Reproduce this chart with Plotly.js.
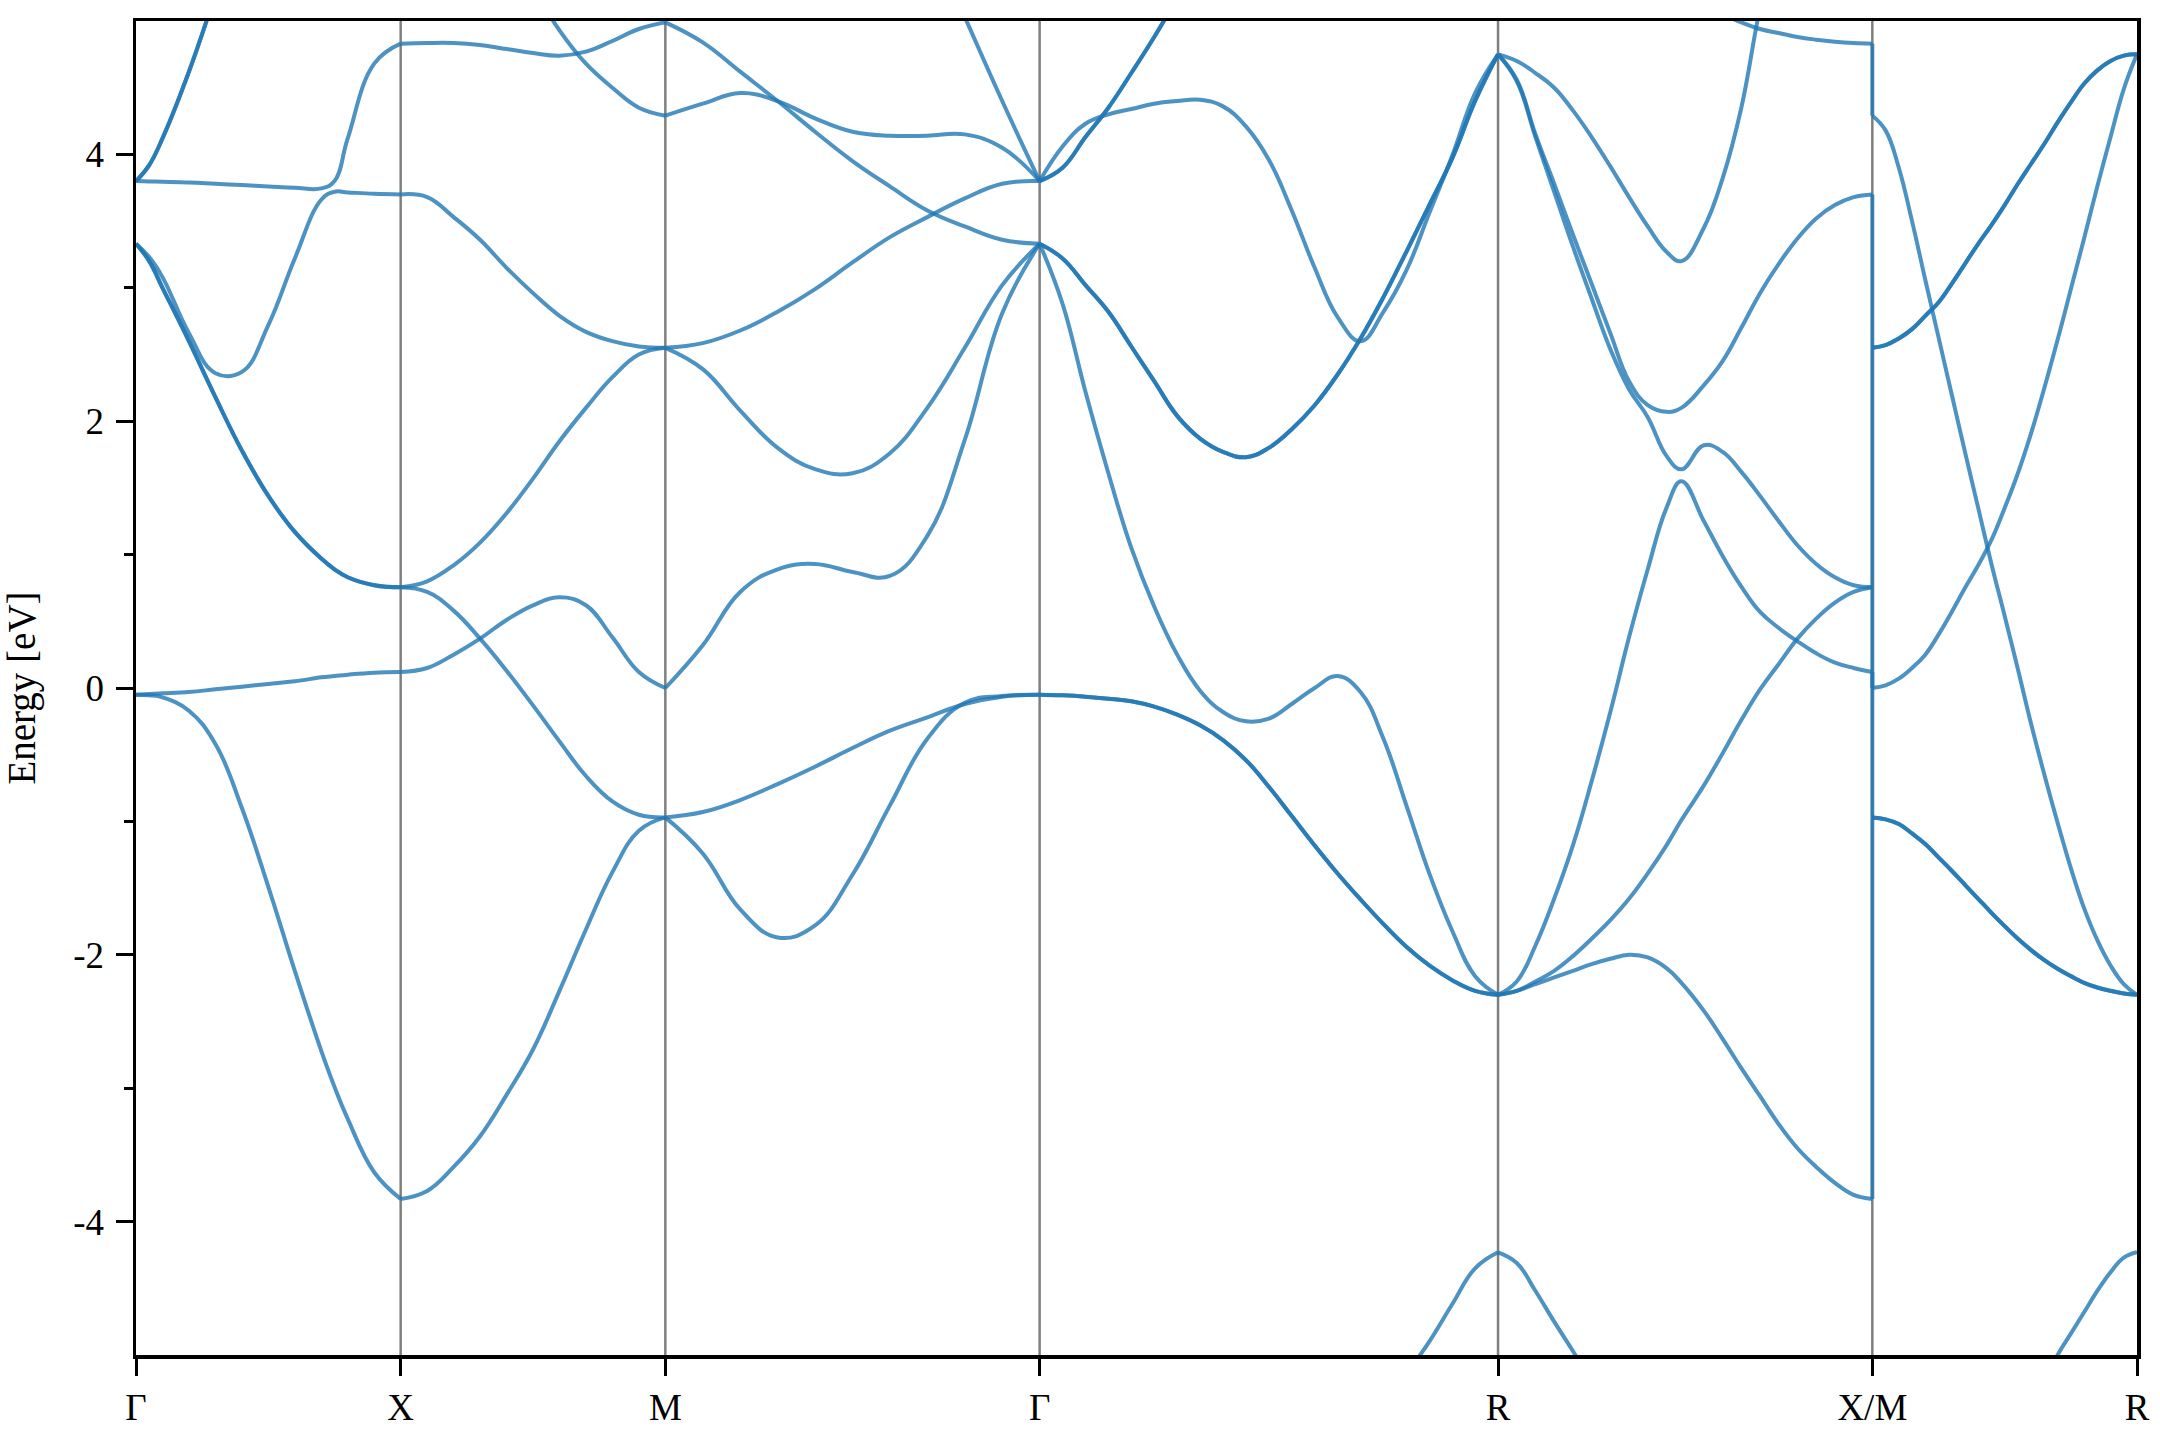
<!DOCTYPE html>
<html>
<head>
<meta charset="utf-8">
<script src="https://cdn.plot.ly/plotly-3.0.1.min.js"></script>
<style>
  html, body { margin: 0; padding: 0; background: #ffffff; }
  #chart { width: 2160px; height: 1440px; }
</style>
</head>
<body>
<div id="chart"></div>
<script>
// ---------------- high-symmetry path ----------------
const kLabels = ['Γ', 'X', 'M', 'Γ', 'R', 'X/M', 'R'];
const kTicks  = [0, 0.5, 1.0, 1.7071, 2.5731, 3.2802, 3.7802];

// ---------------- y axis ticks ----------------
const yTickVals  = [-4, -2, 0, 2, 4];
const yTickText  = ['-4', '-2', '0', '2', '4'];
const yMinorVals = [-3, -1, 1, 3];

// ---------------- Γ → X ----------------
const fGX = [0, 0.05, 0.1, 0.2, 0.3, 0.4, 0.5, 0.6, 0.7, 0.75, 0.8, 0.9, 1];
const bandsGX = [
  [-0.05, -0.055, -0.07, -0.17, -0.42, -0.90, -1.49, -2.12, -2.72, -2.99, -3.23, -3.63, -3.83],
  [-0.05, -0.045, -0.04, -0.03, -0.01, 0.01, 0.03, 0.05, 0.08, 0.09, 0.10, 0.115, 0.12],
  [3.33, 3.20, 3.00, 2.60, 2.18, 1.78, 1.44, 1.17, 0.97, 0.89, 0.83, 0.77, 0.755],
  [3.33, 3.23, 3.08, 2.66, 2.36, 2.37, 2.72, 3.22, 3.66, 3.72, 3.715, 3.705, 3.70],
  [3.80, 3.797, 3.795, 3.79, 3.78, 3.77, 3.76, 3.75, 3.745, 3.80, 4.12, 4.68, 4.83],
  [3.80, 3.92, 4.12, 4.62, 5.2, 5.8, null, null, null, null, null, null, null]
];
const degGX = [1, 1, 2, 1, 1, 2];

// ---------------- X → M ----------------
const fXM = [0, 0.1, 0.2, 0.3, 0.4, 0.5, 0.6, 0.7, 0.8, 0.9, 1];
const bandsXM = [
  [-3.83, -3.77, -3.59, -3.36, -3.05, -2.71, -2.27, -1.81, -1.38, -1.07, -0.97],
  [0.12, 0.15, 0.25, 0.37, 0.51, 0.62, 0.68, 0.62, 0.38, 0.12, 0.0],
  [0.755, 0.72, 0.58, 0.37, 0.13, -0.13, -0.40, -0.66, -0.85, -0.95, -0.97],
  [0.755, 0.80, 0.92, 1.09, 1.31, 1.57, 1.85, 2.10, 2.33, 2.50, 2.55],
  [3.70, 3.68, 3.53, 3.36, 3.15, 2.96, 2.79, 2.67, 2.60, 2.56, 2.55],
  [4.83, 4.835, 4.835, 4.82, 4.79, 4.76, 4.74, 4.77, 4.85, 4.94, 4.99],
  [null, null, null, null, null, 5.25, 4.93, 4.68, 4.50, 4.35, 4.29]
];
const degXM = [1, 1, 1, 1, 1, 1, 1];

// ---------------- M → Γ ----------------
const fMG = [0, 0.1, 0.2, 0.3, 0.4, 0.5, 0.6, 0.7, 0.8, 0.9, 1];
const bandsMG = [
  [-0.97, -1.24, -1.66, -1.87, -1.78, -1.40, -0.88, -0.38, -0.11, -0.06, -0.05],
  [-0.97, -0.93, -0.84, -0.72, -0.59, -0.45, -0.32, -0.22, -0.12, -0.065, -0.05],
  [0.0, 0.32, 0.72, 0.89, 0.93, 0.87, 0.84, 1.14, 1.86, 2.81, 3.33],
  [2.55, 2.39, 2.08, 1.80, 1.64, 1.61, 1.76, 2.10, 2.55, 3.02, 3.33],
  [2.55, 2.585, 2.68, 2.82, 2.99, 3.19, 3.38, 3.53, 3.67, 3.78, 3.80],
  [4.29, 4.38, 4.46, 4.40, 4.27, 4.17, 4.14, 4.14, 4.15, 4.05, 3.80],
  [4.99, 4.84, 4.62, 4.40, 4.17, 3.95, 3.76, 3.58, 3.46, 3.36, 3.33],
  [null, null, null, null, null, null, null, 5.66, 5.03, 4.40, 3.80]
];
const degMG = [1, 1, 1, 1, 1, 1, 1, 1];

// ---------------- Γ → R ----------------
const fGR = [0, 0.05, 0.1, 0.15, 0.2, 0.25, 0.3, 0.35, 0.4, 0.45, 0.5,
             0.55, 0.6, 0.65, 0.7, 0.75, 0.8, 0.85, 0.9, 0.95, 1];
const bandsGR = [
  [-0.05, -0.055, -0.065, -0.08, -0.10, -0.14, -0.20, -0.28, -0.39, -0.54, -0.74,
   -0.96, -1.18, -1.39, -1.585, -1.77, -1.94, -2.08, -2.19, -2.27, -2.30],
  [3.33, 2.88, 2.22, 1.61, 1.05, 0.61, 0.25, -0.02, -0.18, -0.25, -0.23,
   -0.12, 0.00, 0.09, -0.03, -0.38, -0.88, -1.39, -1.82, -2.16, -2.30],
  [3.33, 3.22, 3.02, 2.82, 2.56, 2.30, 2.04, 1.87, 1.77, 1.73, 1.80,
   1.94, 2.12, 2.35, 2.62, 2.93, 3.27, 3.62, 3.97, 4.40, 4.75],
  [3.80, 4.06, 4.23, 4.30, 4.34, 4.38, 4.40, 4.41, 4.36, 4.21, 3.96,
   3.58, 3.15, 2.78, 2.60, 2.82, 3.13, 3.56, 3.99, 4.46, 4.75],
  [3.80, 3.90, 4.13, 4.35, 4.61, 4.88, 5.17, 5.45, null, null, null,
   null, null, null, null, null, null, null, null, null, null],
  [null, null, null, null, null, null, null, null, null, null, null,
   null, null, null, null, -5.45, -5.15, -4.90, -4.62, -4.35, -4.23]
];
const degGR = [2, 1, 2, 1, 2, 1];

// ---------------- R → X ----------------
const fRX = [0, 0.05, 0.1, 0.15, 0.2, 0.25, 0.3, 0.35, 0.4, 0.45, 0.49,
             0.55, 0.6, 0.65, 0.7, 0.75, 0.8, 0.85, 0.9, 0.95, 1];
const bandsRX = [
  [-4.23, -4.31, -4.52, -4.75, -4.97, -5.2, -5.45, null, null, null, null,
   null, null, null, null, null, null, null, null, null, null],
  [-2.30, -2.27, -2.22, -2.17, -2.12, -2.07, -2.03, -2.00, -2.02, -2.10, -2.21,
   -2.42, -2.63, -2.85, -3.06, -3.27, -3.45, -3.59, -3.71, -3.80, -3.83],
  [-2.30, -2.27, -2.20, -2.12, -2.01, -1.88, -1.74, -1.58, -1.39, -1.18, -0.99,
   -0.73, -0.49, -0.24, -0.01, 0.18, 0.37, 0.52, 0.64, 0.72, 0.755],
  [-2.30, -2.20, -1.93, -1.58, -1.18, -0.70, -0.18, 0.38, 0.89, 1.35, 1.55,
   1.25, 0.99, 0.76, 0.57, 0.45, 0.35, 0.26, 0.19, 0.15, 0.12],
  [4.75, 4.55, 4.13, 3.72, 3.31, 2.92, 2.54, 2.24, 2.03, 1.74, 1.64,
   1.82, 1.77, 1.62, 1.44, 1.25, 1.07, 0.93, 0.83, 0.77, 0.755],
  [4.75, 4.56, 4.15, 3.78, 3.40, 3.03, 2.66, 2.30, 2.12, 2.07, 2.10,
   2.27, 2.45, 2.70, 2.96, 3.18, 3.37, 3.52, 3.62, 3.68, 3.70],
  [4.75, 4.70, 4.61, 4.50, 4.33, 4.13, 3.91, 3.68, 3.46, 3.27, 3.20,
   3.45, 3.82, 4.35, 5.1, 5.7, null, null, null, null, null],
  [null, null, null, null, null, null, null, null, null, null, null,
   null, 5.05, 4.99, 4.94, 4.91, 4.88, 4.86, 4.845, 4.835, 4.83]
];
const degRX = [1, 1, 1, 1, 1, 1, 1, 1];

// ---------------- M → R ----------------
const fMR = [0, 0.05, 0.1, 0.15, 0.2, 0.25, 0.3, 0.35, 0.4, 0.45, 0.5,
             0.55, 0.6, 0.65, 0.7, 0.75, 0.8, 0.85, 0.9, 0.95, 1];
const bandsMR = [
  [-0.97, -0.985, -1.02, -1.09, -1.17, -1.27, -1.37, -1.475, -1.58, -1.685, -1.785,
   -1.88, -1.965, -2.04, -2.105, -2.16, -2.21, -2.245, -2.27, -2.29, -2.30],
  [4.29, 4.18, 3.90, 3.50, 3.06, 2.63, 2.20, 1.77, 1.35, 0.93, 0.54,
   0.14, -0.27, -0.65, -1.01, -1.35, -1.65, -1.89, -2.08, -2.22, -2.30],
  [2.55, 2.57, 2.62, 2.69, 2.79, 2.89, 3.03, 3.18, 3.33, 3.47, 3.62,
   3.78, 3.93, 4.08, 4.24, 4.39, 4.53, 4.63, 4.70, 4.74, 4.75],
  [0.0, 0.02, 0.07, 0.15, 0.25, 0.40, 0.57, 0.75, 0.92, 1.11, 1.35,
   1.61, 1.91, 2.25, 2.61, 2.99, 3.37, 3.76, 4.13, 4.49, 4.75],
  [null, null, null, null, null, null, null, null, null, null, null,
   null, null, -5.2, -5.0, -4.84, -4.68, -4.52, -4.38, -4.27, -4.23]
];
const degMR = [2, 1, 2, 1, 1];

// ---------------- build traces ----------------
const segments = [
  {from: 0, to: 1, f: fGX, bands: bandsGX, deg: degGX},
  {from: 1, to: 2, f: fXM, bands: bandsXM, deg: degXM},
  {from: 2, to: 3, f: fMG, bands: bandsMG, deg: degMG},
  {from: 3, to: 4, f: fGR, bands: bandsGR, deg: degGR},
  {from: 4, to: 5, f: fRX, bands: bandsRX, deg: degRX},
  {from: 5, to: 6, f: fMR, bands: bandsMR, deg: degMR}
];

const bandColor = 'rgba(31,119,180,0.8)';
const lineStyle = {color: bandColor, width: 4, shape: 'spline', smoothing: 1.2};
const traces = [];
segments.forEach(seg => {
  const k0 = kTicks[seg.from], k1 = kTicks[seg.to];
  const xs = seg.f.map(t => k0 + t * (k1 - k0));
  seg.bands.forEach((band, i) => {
    for (let d = 0; d < seg.deg[i]; d++) {
      traces.push({
        type: 'scatter', mode: 'lines', x: xs, y: band,
        line: lineStyle, hoverinfo: 'skip', showlegend: false, connectgaps: false
      });
    }
  });
});

// discontinuity X|M : band n at X joins band n at M (sorted energies)
function edgeValues(seg, atEnd) {
  const out = [];
  seg.bands.forEach((b, i) => {
    const v = atEnd ? b[b.length - 1] : b[0];
    if (v !== null) for (let d = 0; d < seg.deg[i]; d++) out.push(v);
  });
  return out.sort((a, b) => a - b);
}
const endX = edgeValues(segments[4], true);
const startM = edgeValues(segments[5], false);
const kJump = kTicks[5];
for (let i = 0; i < Math.min(endX.length, startM.length); i++) {
  traces.push({
    type: 'scatter', mode: 'lines', x: [kJump, kJump], y: [endX[i], startM[i]],
    line: {color: bandColor, width: 4}, hoverinfo: 'skip', showlegend: false
  });
}

// vertical guide lines at the high-symmetry points
const shapes = kTicks.slice(1, -1).map(k => ({
  type: 'line', xref: 'x', yref: 'paper', x0: k, x1: k, y0: 0, y1: 1,
  line: {color: 'rgba(0,0,0,0.5)', width: 2.5}, layer: 'below'
}));

const fontFamily = '"Liberation Serif", "Times New Roman", Times, serif';
const layout = {
  width: 2160, height: 1440,
  margin: {l: 136, r: 23, t: 21, b: 85, pad: 0},
  paper_bgcolor: '#ffffff', plot_bgcolor: '#ffffff',
  showlegend: false,
  font: {family: fontFamily, size: 37, color: '#000000'},
  xaxis: {
    range: [kTicks[0], kTicks[kTicks.length - 1]],
    tickmode: 'array', tickvals: kTicks, ticktext: kLabels,
    ticks: 'outside', ticklen: 17, tickwidth: 3, tickcolor: '#000000',
    ticklabelstandoff: 0,
    showgrid: false, zeroline: false,
    showline: true, linecolor: '#000000', linewidth: 3.5, mirror: true,
    tickfont: {family: fontFamily, size: 37, color: '#000000'}
  },
  yaxis: {
    range: [-5, 5],
    tickmode: 'array', tickvals: yTickVals, ticktext: yTickText,
    ticks: 'outside', ticklen: 17, tickwidth: 3, tickcolor: '#000000',
    ticklabelstandoff: 4,
    minor: {tickmode: 'array', tickvals: yMinorVals, ticks: 'outside', ticklen: 9, tickwidth: 3, tickcolor: '#000000', showgrid: false},
    showgrid: false, zeroline: false,
    showline: true, linecolor: '#000000', linewidth: 3.5, mirror: true,
    tickfont: {family: fontFamily, size: 37, color: '#000000'},
    title: {text: 'Energy [eV]', font: {family: fontFamily, size: 39, color: '#000000'}, standoff: 30}
  },
  shapes: shapes
};

Plotly.newPlot('chart', traces, layout, {staticPlot: true, displayModeBar: false});
</script>
</body>
</html>
